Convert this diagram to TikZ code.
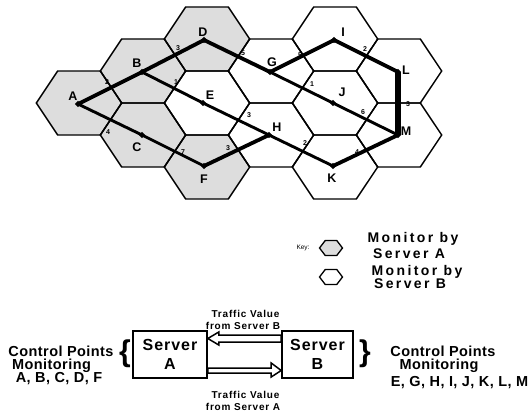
\documentclass[tikz,border=0pt]{standalone}
\usepackage{fontspec}
\setmainfont{Liberation Sans}
\newfontfamily\keyfont[LetterSpace=17]{Liberation Sans}
\newfontfamily\srvfont[LetterSpace=6]{Liberation Sans}
\newfontfamily\trfont[LetterSpace=8]{Liberation Sans}
\newfontfamily\ctlfont[LetterSpace=3]{Liberation Sans}
\usetikzlibrary{calc,shapes.geometric}
\definecolor{hexgray}{RGB}{221,221,221}
\tikzset{
  hexcell/.pic={\path[pic actions] (-42.67,0) -- (-21.33,-32) -- (21.33,-32) -- (42.67,0) -- (21.33,32) -- (-21.33,32) -- cycle;},
  keyhex/.pic={\path[pic actions] (-11.5,0) -- (-5.75,-7.5) -- (5.75,-7.5) -- (11.5,0) -- (5.75,7.5) -- (-5.75,7.5) -- cycle;},
  lbl/.style={font=\bfseries\fontsize{12.5}{12.5}\selectfont, inner sep=0, anchor=base},
  wt/.style={font=\bfseries\fontsize{7}{7}\selectfont, inner sep=0, anchor=base},
  ptmark/.style={diamond, fill=black, inner sep=0, minimum size=6.5pt},
  lkA/.style={line width=3.8pt, line join=round},
  lkB/.style={line width=2.9pt, line join=round},
  lkC/.style={line width=5.5pt, line join=round},
  ctl/.style={font=\ctlfont\bfseries\fontsize{14.5}{14.5}\selectfont, inner sep=0, anchor=base},
  keytxt/.style={font=\keyfont\bfseries\fontsize{14}{14}\selectfont, inner sep=0, anchor=base},
  trtxt/.style={font=\trfont\bfseries\fontsize{10}{10}\selectfont, inner sep=0, anchor=base},
  srv/.style={draw, line width=1.6pt, inner sep=0, minimum height=47pt, align=center,
    font=\srvfont\bfseries\fontsize{16}{19}\selectfont},
  hollow/.style={draw, fill=white, line width=1.5pt, line join=miter},
  bracetxt/.style={font=\bfseries\fontsize{30}{30}\selectfont, inner sep=0},
}
\begin{document}
\begin{tikzpicture}[x=1pt,y=-1pt]
\useasboundingbox (0,0) rectangle (532,412);
% hexagon fills
\foreach \x/\y in {79/103,143/71,143/135,207/39,207/167}
  \pic[fill=hexgray] at (\x,\y) {hexcell};
\foreach \x/\y in {207/103,271/71,271/135,335/39,335/103,335/167,399/71,399/135}
  \pic[fill=white] at (\x,\y) {hexcell};
% hexagon outlines
\foreach \x/\y in {79/103,143/71,143/135,207/39,207/167,207/103,271/71,271/135,335/39,335/103,335/167,399/71,399/135}
  \pic[draw, line width=1.4pt, line join=miter] at (\x,\y) {hexcell};
% control points
\coordinate (A) at (78,104);
\coordinate (B) at (142,72);
\coordinate (C) at (142,135);
\coordinate (D) at (204,40);
\coordinate (E) at (203,103);
\coordinate (F) at (204,166);
\coordinate (G) at (270,72);
\coordinate (H) at (269,135);
\coordinate (I) at (334,40);
\coordinate (J) at (333,103);
\coordinate (K) at (333,166);
\coordinate (L) at (398,72);
\coordinate (M) at (398,135);
% weights (drawn below the links, as in the reference)
\node[wt] (w1) at (107,84.5) {2};
\node[wt] (w2) at (178,50.5) {3};
\node[wt] (w3) at (176,84.5) {1};
\node[wt] (w4) at (243,55.5) {5};
\node[wt] (w5) at (249,117.5) {3};
\node[wt] (w6) at (228,150.5) {3};
\node[wt] (w7) at (305,145.5) {2};
\node[wt] (w8) at (108,134.5) {4};
\node[wt] (w9) at (183,154.5) {7};
\node[wt] (w10) at (300,57.5) {5};
\node[wt] (w11) at (365,51.5) {2};
\node[wt] (w12) at (312,86.5) {1};
\node[wt] (w13) at (363,114.5) {6};
\node[wt] (w14) at (408,106.5) {3};
\node[wt] (w15) at (357,154.5) {4};
% links
\draw[lkA] (A) -- (B) -- (D) -- (G) -- (I) -- (L);
\draw[lkB] (A) -- (C) -- (F);
\draw[lkA] (F) -- (H);
\draw[lkB] (H) -- (K);
\draw[lkA] (K) -- (M);
\draw[lkB] (B) -- (E) -- (H);
\draw[lkB] (G) -- (J) -- (M);
\draw[lkC] (L) -- (M);
% markers
\foreach \p in {A,B,C,D,E,F,G,H,I,J,K,L,M}
  \node[ptmark] (m\p) at (\p) {};
% point labels
\node[lbl] (lA) at (73,100.5) {A};
\node[lbl] (lB) at (137,67.5) {B};
\node[lbl] (lC) at (137,151.5) {C};
\node[lbl] (lD) at (203,36.5) {D};
\node[lbl] (lE) at (210,99.5) {E};
\node[lbl] (lF) at (204,183.5) {F};
\node[lbl] (lG) at (272,66.5) {G};
\node[lbl] (lH) at (277,131.5) {H};
\node[lbl] (lI) at (343,36.5) {I};
\node[lbl] (lJ) at (342,96.5) {J};
\node[lbl] (lK) at (332,182.5) {K};
\node[lbl] (lL) at (406,74.5) {L};
\node[lbl] (lM) at (406,135.5) {M};
% key
\node[font=\fontsize{6.5}{6.5}\selectfont, inner sep=0, anchor=base] (keylbl) at (303,249.3) {Key:};
\pic[fill=hexgray, draw, line width=1.3pt] at (331,248) {keyhex};
\pic[fill=white, draw, line width=1.3pt] at (331,277) {keyhex};
\node[keytxt] (k1) at (413,242) {Monitor by};
\node[keytxt] (k2) at (409,258) {Server A};
\node[keytxt] (k3) at (417,275) {Monitor by};
\node[keytxt] (k4) at (410,288) {Server B};
% servers
\node[srv, minimum width=74pt] (SA) at (170,354.5) {Server\\A};
\node[srv, minimum width=71pt] (SB) at (317.5,354.5) {Server\\B};
% traffic arrows
\draw[hollow] ($(SA.east)+(0,-16)$) -- ++(11,-6.5) -- ++(0,3) -- ($(SB.west)+(0,-19.5)$)
  -- ++(0,7) -- ($(SA.east)+(11,-12.5)$) -- ++(0,3) -- cycle;
\draw[hollow] ($(SB.west)+(0,16)$) -- ++(-10,-7.5) -- ++(0,5) -- ($(SA.east)+(0,13.5)$)
  -- ++(0,5) -- ($(SB.west)+(-10,18.5)$) -- ++(0,4) -- cycle;
\node[trtxt] (t1) at (245.5,317.2) {Traffic Value};
\node[trtxt] (t2) at (243,329.1) {from Server B};
\node[trtxt] (t3) at (245.5,398.3) {Traffic Value};
\node[trtxt] (t4) at (243,410.1) {from Server A};
% braces
\node[bracetxt] (brL) at (125,354) {\{};
\node[bracetxt] (brR) at (365,354) {\}};
% control point texts
\node[ctl] (cL1) at (61,356) {Control Points};
\node[ctl] (cL2) at (51.5,369) {Monitoring};
\node[ctl] (cL3) at (59,382) {A, B, C, D, F};
\node[ctl] (cR1) at (443,356) {Control Points};
\node[ctl] (cR2) at (439,369) {Monitoring};
\node[ctl] (cR3) at (459.5,386.5) {E, G, H, I, J, K, L, M};
\end{tikzpicture}
\end{document}
